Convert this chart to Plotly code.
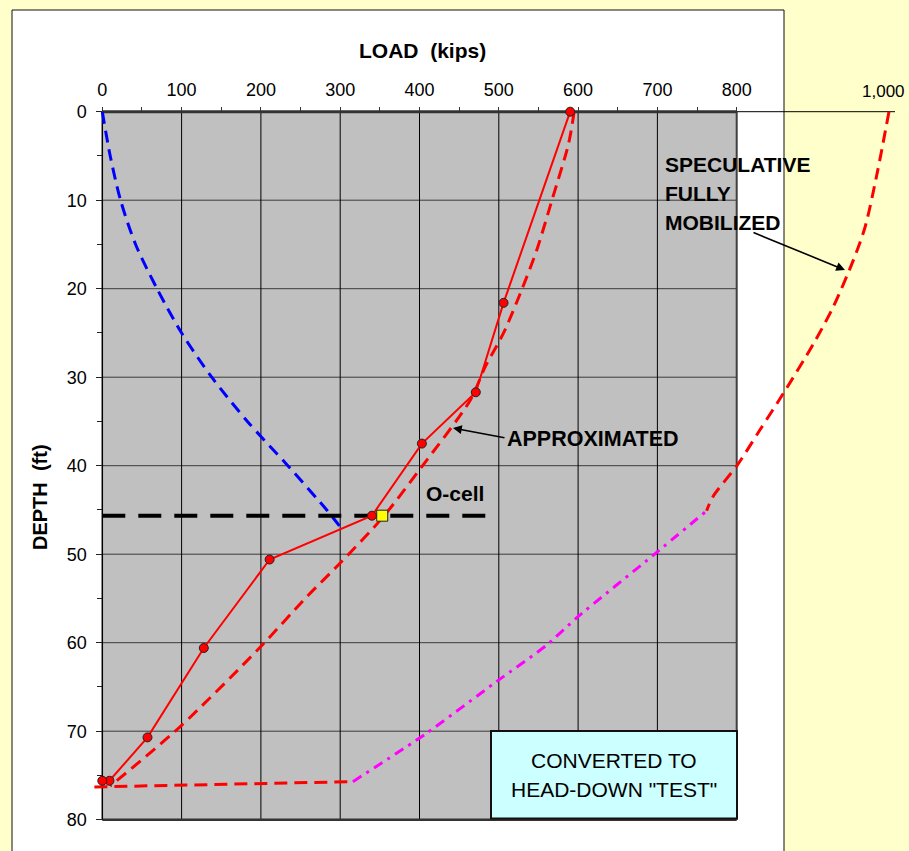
import plotly.graph_objects as go

# ---------------- data ----------------
load_ticks = [0, 100, 200, 300, 400, 500, 600, 700, 800]
load_tick_text = ["0", "100", "200", "300", "400", "500", "600", "700", "800"]
load_minor = [50, 150, 250, 350, 450, 550, 650, 750]
depth_ticks = [0, 10, 20, 30, 40, 50, 60, 70, 80]
depth_tick_text = ["0", "10", "20", "30", "40", "50", "60", "70", "80"]
depth_minor = [5, 15, 25, 35, 45, 55, 65, 75]

# blue dashed (shaft above O-cell)
blue_depth = [0, 5, 10, 15, 20, 25, 30, 35, 40, 45, 46.8]
blue_load = [0, 10, 23, 42, 69, 100, 138, 183, 234, 283, 299]

# measured (converted) load distribution, red with markers
meas_depth = [0, 21.6, 31.7, 37.5, 45.65, 50.6, 60.6, 70.7, 75.6, 75.6]
meas_load = [590, 506, 471, 403, 340, 211, 128, 57, 9, 0]

# approximated (red dashed)
approx_depth = [0, 3.6, 10, 15.6, 20.1, 25, 28.8, 32.6, 40.1, 45.8, 51, 54.8, 60.8, 69.5, 76.2]
approx_load = [595, 588, 567, 548, 529, 506, 483, 464, 403, 354, 300, 258, 196, 98, 10]

# speculative fully mobilized (red dashed, upper part)
spec_depth = [0, 7, 13, 16.8, 22, 26.2, 31.8, 36, 39.9, 43.5, 45.1]
spec_load = [992, 977, 962, 947, 922, 897, 859, 829, 801, 770, 762]

# speculative toe (red dashed, nearly horizontal)
toe_depth = [76.3, 75.7]
toe_load = [-10, 316]

# speculative lower shaft (magenta dash-dot)
shaft_depth = [75.7, 70.35, 64.4, 60.3, 57.2, 50.1, 45.1]
shaft_load = [316, 407, 497, 560, 598, 695, 762]

# O-cell level
ocell_line_depth = [45.65, 45.65]
ocell_line_load = [0, 485]
ocell_depth = [45.65]
ocell_load = [353]

# ---------------- geometry ----------------
W, H = 909, 851
L, R, T, B = 91, 14, 103, 22
PW, PH = W - L - R, H - T - B
X0PX, KPX = 102.3, 0.793     # pixel of load 0, px per kip
Y0PX, FPX = 111.7, 8.85      # pixel of depth 0, px per ft
PB = H - B                   # bottom pixel of plot area

xr = [(L - X0PX) / KPX, (L + PW - X0PX) / KPX]
yr = [(PB - Y0PX) / FPX, (T - Y0PX) / FPX]


def px(p):
    return (p - L) / PW


def py(p):
    return (PB - p) / PH


FONT = "Liberation Sans, Arial, sans-serif"

fig = go.Figure()

fig.add_trace(go.Scatter(x=blue_load, y=blue_depth, mode="lines",
                         line=dict(color="#0000FF", width=3, dash="12px,7px",
                                   shape="spline", smoothing=0.8),
                         hoverinfo="skip"))
fig.add_trace(go.Scatter(x=ocell_line_load, y=ocell_line_depth, mode="lines",
                         line=dict(color="black", width=4, dash="23px,13px"),
                         hoverinfo="skip"))
fig.add_trace(go.Scatter(x=approx_load, y=approx_depth, mode="lines",
                         line=dict(color="#FF0000", width=3, dash="12px,7px",
                                   shape="spline", smoothing=0.8),
                         hoverinfo="skip"))
fig.add_trace(go.Scatter(x=spec_load, y=spec_depth, mode="lines",
                         line=dict(color="#FF0000", width=3, dash="12px,7px",
                                   shape="spline", smoothing=0.8),
                         hoverinfo="skip"))
fig.add_trace(go.Scatter(x=toe_load, y=toe_depth, mode="lines",
                         line=dict(color="#FF0000", width=3, dash="13px,7px"),
                         hoverinfo="skip"))
fig.add_trace(go.Scatter(x=shaft_load, y=shaft_depth, mode="lines",
                         line=dict(color="#FF00FF", width=3, dash="10px,6px,3px,6px",
                                   shape="spline", smoothing=0.6),
                         hoverinfo="skip"))
fig.add_trace(go.Scatter(x=meas_load, y=meas_depth, mode="lines+markers",
                         line=dict(color="#FF0000", width=2),
                         marker=dict(symbol="circle", size=9, color="#FF0000",
                                     line=dict(color="#222", width=1)),
                         cliponaxis=False, hoverinfo="skip"))
fig.add_trace(go.Scatter(x=ocell_load, y=ocell_depth, mode="markers",
                         marker=dict(symbol="square", size=11, color="#FFFF00",
                                     line=dict(color="#222", width=1)),
                         cliponaxis=False, hoverinfo="skip"))

shapes = []
# white chart area
shapes.append(dict(type="rect", xref="paper", yref="paper",
                   x0=px(12), x1=px(784), y0=py(880), y1=py(10),
                   fillcolor="white", line=dict(color="#111", width=1), layer="below"))
# grey plot area
shapes.append(dict(type="rect", xref="x", yref="y", x0=0, x1=800, y0=0, y1=80,
                   fillcolor="#C0C0C0", line=dict(width=0), layer="below"))
for d in depth_ticks[1:-1]:
    shapes.append(dict(type="line", xref="x", yref="y", x0=0, x1=800, y0=d, y1=d,
                       line=dict(color="#3a3a3a", width=1), layer="below"))
for v in load_ticks[1:-1]:
    shapes.append(dict(type="line", xref="x", yref="y", x0=v, x1=v, y0=0, y1=80,
                       line=dict(color="black", width=1), layer="below"))
# borders
shapes.append(dict(type="line", xref="x", yref="y", x0=800, x1=800, y0=0, y1=80,
                   line=dict(color="#404040", width=2), layer="below"))
shapes.append(dict(type="line", xref="x", yref="y", x0=0, x1=800, y0=80, y1=80,
                   line=dict(color="#333", width=2.5), layer="below"))
shapes.append(dict(type="line", xref="x", yref="y", x0=0, x1=0, y0=0, y1=80,
                   line=dict(color="black", width=1.5), layer="below"))
shapes.append(dict(type="line", xref="x", yref="y", x0=0, x1=800, y0=0, y1=0,
                   line=dict(color="#333", width=3), layer="below"))
shapes.append(dict(type="line", xref="x", yref="y", x0=800, x1=1000, y0=0, y1=0,
                   line=dict(color="black", width=1), layer="below"))
# converted box
shapes.append(dict(type="rect", xref="paper", yref="paper",
                   x0=px(491), x1=px(737), y0=py(818.5), y1=py(731),
                   fillcolor="#CCFFFF", line=dict(color="#111", width=2), layer="above"))

ann = []


def text(t, x, y, size=21, bold=True, xanchor="center", angle=0):
    ann.append(dict(text=("<b>%s</b>" % t) if bold else t, xref="paper", yref="paper",
                    x=px(x), y=py(y), xanchor=xanchor, yanchor="middle",
                    showarrow=False, textangle=angle,
                    font=dict(family=FONT, size=size, color="black")))


text("LOAD&nbsp;&nbsp;(kips)", 422, 51, size=21)
text("DEPTH&nbsp;&nbsp;(ft)", 40, 497, size=20, angle=-90)
text("1,000", 883, 91, size=17, bold=False)
text("APPROXIMATED", 505, 439, xanchor="left", size=21.5)
text("O-cell", 424, 494, xanchor="left")
text("SPECULATIVE", 663, 164, xanchor="left")
text("FULLY", 663, 193, xanchor="left")
text("MOBILIZED", 663, 222, xanchor="left")
text("CONVERTED TO", 614, 760, bold=False)
text("HEAD-DOWN \"TEST\"", 614, 789, bold=False)


def arrow(tx, ty, hx, hy):
    ann.append(dict(text="", xref="paper", yref="paper", x=px(hx), y=py(hy),
                    axref="pixel", ayref="pixel", ax=tx - hx, ay=ty - hy,
                    showarrow=True, arrowhead=2, arrowsize=1.1, arrowwidth=1.6,
                    arrowcolor="black", standoff=0, startstandoff=0))


arrow(506, 438, 453, 428)
arrow(752, 232, 845, 270)

fig.update_layout(
    width=W, height=H,
    margin=dict(l=L, r=R, t=T, b=B, pad=0),
    paper_bgcolor="#FFFFCC",
    plot_bgcolor="rgba(0,0,0,0)",
    showlegend=False,
    shapes=shapes,
    annotations=ann,
    font=dict(family=FONT, color="black"),
    xaxis=dict(range=xr, side="top", anchor="free", position=(PB - Y0PX) / PH,
               tickmode="array", tickvals=load_ticks, ticktext=load_tick_text,
               ticks="outside", ticklen=5, tickwidth=1, tickcolor="#333",
               minor=dict(tickvals=load_minor, ticks="outside", ticklen=5,
                          tickwidth=1, tickcolor="#333", showgrid=False),
               showgrid=False, zeroline=False, showline=False,
               tickfont=dict(family=FONT, size=18, color="black"),
               ticklabelstandoff=4, fixedrange=True),
    yaxis=dict(range=yr, anchor="free", position=(X0PX - L) / PW,
               tickmode="array", tickvals=depth_ticks, ticktext=depth_tick_text,
               ticks="outside", ticklen=6, tickwidth=1, tickcolor="#222",
               minor=dict(tickvals=depth_minor, ticks="outside", ticklen=5,
                          tickwidth=1, tickcolor="#222", showgrid=False),
               showgrid=False, zeroline=False, showline=False,
               tickfont=dict(family=FONT, size=18, color="black"),
               ticklabelstandoff=6, fixedrange=True),
)

fig.write_html("out.html", config={"displayModeBar": False},
               post_script="document.body.style.margin='0';document.body.style.overflow='hidden';")
